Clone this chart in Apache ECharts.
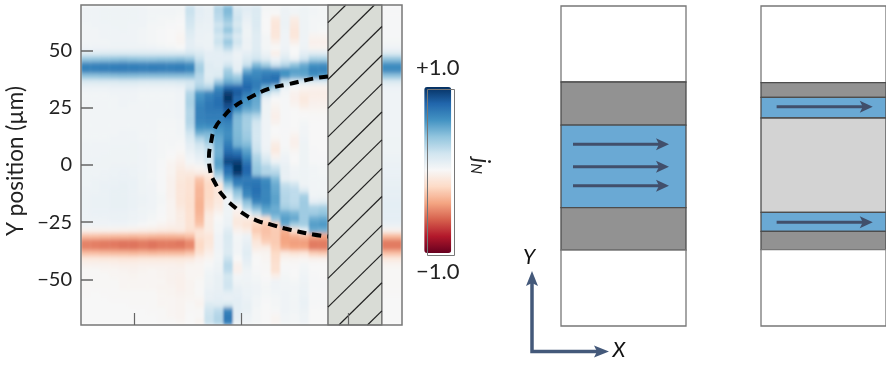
<!DOCTYPE html>
<html>
<head>
<meta charset="utf-8">
<style>
html,body{margin:0;padding:0;background:#fff}
#stage{position:relative;width:886px;height:366px;overflow:hidden}
#heatClip{position:absolute;left:81px;top:5px;width:321px;height:320px;overflow:hidden}
#heat{width:321px;height:320px;filter:url(#soft)}
#chart{position:absolute;left:0;top:0;width:886px;height:366px}
</style>
<script src="https://cdn.jsdelivr.net/npm/echarts@6/dist/echarts.min.js"></script>
</head>
<body>
<svg width="0" height="0" style="position:absolute"><filter id="soft" x="-5%" y="-5%" width="110%" height="110%"><feGaussianBlur stdDeviation="0.9 2"/></filter></svg>
<div id="stage">
<div id="heatClip"><div id="heat"></div></div>
<div id="chart"></div>
</div>
<script>
// y position of each heatmap row, top to bottom (um)
var rowLabels = [];
for (var r = 0; r < 56; r++) rowLabels.push(68.75 - 2.5 * r);
var colLabels = ['c0','c1','c2','c3','c4','c5','c6','c7','c8','c9','c10','c11','c12','c13','c14','c15','c16','c17','c18','c19','c20','c21','c22','c23','c24','c25'];
var yTicks = [-50, -25, 0, 25, 50];
var xTicks = [-50, 0, 50];

// current density in hundredths, one array per column, left to right
var c0 = [4,4,4,3,3,3,3,4, 13,38,66,68,40,14, 6,3,3,3,3,3,3,3,3,3,4,4,4,4, 5,5,5,5,6,6,6,6,6,6,4,-4, -30,-50,-50,-30,-10, -4,-1,-1,-1,-1,-1,0,0,0,0,0];
var c1 = [4,4,4,4,3,3,3,4, 13,39,67,68,40,14, 6,3,3,3,3,3,3,3,3,3,4,4,4,5, 5,5,6,6,6,7,7,7,7,6,4,-4, -30,-51,-51,-30,-10, -4,-1,-1,-1,-1,0,0,0,0,0,0];
var c2 = [5,5,5,4,4,4,3,4, 14,40,68,69,41,15, 6,3,3,3,3,3,3,3,3,3,4,4,5,5, 5,6,6,7,7,7,7,7,7,6,4,-4, -31,-52,-52,-31,-11, -4,-2,-1,-1,-1,-1,0,0,0,0,0];
var c3 = [5,5,5,5,4,4,4,5, 15,41,68,70,42,15, 7,4,3,3,3,3,3,3,3,4,4,5,5,5, 6,6,7,7,8,8,8,8,7,7,4,-4, -32,-53,-52,-32,-11, -5,-2,-2,-1,-1,-1,-1,0,0,0,0];
var c4 = [5,5,5,5,5,4,4,5, 15,42,69,70,43,16, 7,4,4,4,3,3,3,3,4,4,4,5,5,5, 6,7,7,8,8,8,8,8,7,7,4,-5, -32,-54,-54,-32,-12, -6,-3,-2,-2,-2,-1,-1,0,0,0,0];
var c5 = [5,5,5,4,4,4,4,5, 15,41,68,70,43,16, 7,4,4,3,3,3,3,3,4,4,5,5,5,5, 6,6,7,7,7,7,7,7,6,6,3,-6, -33,-54,-54,-33,-12, -6,-4,-3,-2,-2,-1,-1,-1,0,0,0];
var c6 = [4,4,4,4,3,3,3,5, 14,40,67,69,42,15, 6,3,3,3,3,3,3,3,3,3,4,4,4,4, 4,5,5,5,5,6,6,5,5,4,1,-7, -32,-52,-52,-32,-11, -5,-3,-2,-2,-2,-1,-1,-1,0,0,0];
var c7 = [3,3,3,2,2,2,2,4, 14,40,68,70,42,15, 6,3,3,3,3,3,3,3,3,3,3,3,3,3, 3,3,3,4,4,4,4,4,3,2,-1,-8, -33,-54,-54,-33,-11, -5,-2,-2,-2,-2,-1,-1,-1,-1,0,0];
var c8 = [3,3,2,2,1,1,1,3, 14,41,68,69,42,15, 6,3,3,3,3,3,2,2,2,2,2,2,2,1, 1,1,1,1,1,2,2,1,1,0,-3,-9, -34,-52,-52,-32,-11, -5,-3,-3,-2,-3,-2,-2,-2,-1,-1,-1];
var c9 = [3,3,2,1,0,0,0,2, 14,41,67,69,42,15, 6,3,3,3,3,3,2,2,2,2,2,1,0,-2, -3,-3,-4,-4,-4,-4,-3,-3,-3,-3,-5,-10, -34,-52,-52,-32,-11, -5,-4,-4,-4,-3,-3,-2,-2,-2,-2,-1];
var c10 = [3,2,1,0,-1,-2,-2,0, 15,42,68,70,42,16, 7,4,4,4,4,4,3,3,3,2,1,-1,-3,-5, -8,-10,-11,-12,-12,-12,-12,-10,-8,-8,-7,-9, -33,-54,-52,-32,-11, -6,-4,-5,-5,-5,-4,-3,-3,-3,-3,-2];
var c11 = [22,22,20,18,14,12,10,10, 18,38,64,66,42,18, 18,30,32,32,30,30,30,26,20,14,10,8,4,2, -4,-10,-14,-15,-15,-16,-16,-16,-15,-15,-14,-16, -30,-48,-48,-28,-10, -3,-2,-2,-3,-3,-3,-2,-1,-1,0,0];
var c12 = [10,10,9,8,7,7,6,8, 14,22,32,34,28,26, 32,58,62,66,68,68,66,60,48,30,20,14,10,6, -2,-8,-28,-32,-34,-34,-35,-35,-34,-32,-28,-14, -14,-20,-20,-14,-5, -2,-2,-2,-1,-1,-1,-2,-3,-1,-1,-3];
var c13 = [8,8,8,7,7,6,6,6, 10,10,12,12,12,16, 30,66,70,72,72,70,68,60,46,40,30,22,20,16, 4,-8,-16,-20,-20,-20,-18,-16,-10,-8,-8,-8, -12,-12,-10,-6,-2, 1,3,5,5,6,8,8,14,20,22,22];
var c14 = [30,28,26,20,24,18,22,14, 10,10,10,12,14,36, 62,72,76,76,72,70,68,60,56,52,50,48,50,55, 52,38,22,-10,-12,-12,-10,-8,-3,0,2,2, 4,4,4,3,3, 5,6,8,8,8,9,10,12,26,30,30];
var c15 = [44,44,38,30,40,26,38,28, 12,10,18,34,40,50, 78,96,100,90,84,78,68,64,62,64,70,76,84,92, 78,74,58,40,22,6,4,5,5,6,6,12, 16,15,14,14,22, 28,26,18,20,20,10,8,16,66,72,70];
var c16 = [14,18,20,16,22,14,20,12, 6,7,8,10,34,46, 80,84,78,76,60,46,44,44,45,46,48,70,82,94, 100,96,74,66,44,34,20,-2,-6,-10,-10,-4, 2,3,3,3,0, -4,-5,3,5,8,9,10,10,10,10,8];
var c17 = [12,10,8,6,5,5,6,5, 10,14,22,50,68,74, 80,72,62,58,50,36,34,34,36,38,44,54,62,72, 80,78,70,72,68,64,42,30,6,-10,-14,-8, 6,8,10,12,10, 8,5,4,5,6,6,7,8,8,6,4];
var c18 = [14,14,15,14,13,12,12,12, 14,20,44,62,66,70, 70,60,52,50,46,30,20,18,18,18,20,22,30,34, 38,40,70,74,76,74,66,46,24,-12,-22,-26, -20,-12,-8,-2,0, 0,1,2,3,4,4,3,3,2,2,2];
var c19 = [2,1,0,0,0,2,2,2, 6,12,34,64,72,74, 50,24,8,5,5,5,4,4,4,4,4,6,12,20, 30,30,62,66,66,66,66,56,48,-14,-26,-30, -28,-24,-8,-3,-2, -1,-1,0,1,2,2,1,0,0,0,0];
var c20 = [2,0,-10,-12,-12,-12,-6,0, -6,4,20,62,76,74, 38,12,0,-2,-4,-6,-4,0,0,-2,-8,-10,-4,6, 22,30,44,50,52,54,54,50,50,40,-22,-26, -26,-26,-24,-20,-18, -16,-16,-6,4,4,3,2,2,1,-2,-3];
var c21 = [5,6,6,6,5,4,4,4, 8,14,28,60,60,24, 6,2,1,1,1,1,1,1,1,1,1,2,4,6, 8,8,8,24,28,30,30,34,50,56,50,-36, -40,-40,-36,-10,-3, 0,1,2,3,3,4,4,4,4,3,3];
var c22 = [3,3,-8,-10,-12,-12,-6,0, 0,6,40,56,50,14, 0,-4,-5,-3,0,0,0,0,-2,-5,-5,-2,0,0, 3,4,5,20,26,26,26,30,46,52,34,-14, -36,-42,-40,-14,-3, -1,0,0,2,3,3,3,3,3,2,2];
var c23 = [5,5,5,5,5,5,4,5, 10,20,50,56,52,14, -2,-8,-10,-8,-2,0,2,3,3,4,5,5,5,5, 5,5,5,5,14,34,36,36,36,36,34,8, -32,-42,-40,-12,-2, 2,3,4,5,6,6,7,7,6,5,4];
var c24 = [3,3,2,2,2,-3,-5,-3, 12,34,60,68,60,12, -4,-7,-6,-4,-2,-1,0,0,0,0,0,1,1,1, 3,3,3,3,3,4,10,32,36,50,56,50, -38,-52,-52,-24,-4, 0,0,1,1,1,1,1,1,0,0,0];
var c25 = [2,2,2,2,1,-3,-5,-3, 12,34,62,68,56,12, -4,-7,-6,-4,-2,-1,0,0,0,0,0,0,1,1, 2,2,3,3,3,5,12,34,40,52,58,48, -40,-52,-52,-26,-4, 0,0,0,1,1,1,1,1,0,0,0];
var leftColumns = [c0,c1,c2,c3,c4,c5,c6,c7,c8,c9,c10,c11,c12,c13,c14,c15,c16,c17,c18,c19,c20,c21,c22,c23,c24,c25];
// strip to the right of the hatched block
var rightColumn = [1,1,1,1,1,1,2,4, 14,40,62,64,40,14, 6,4,4,4,4,4,4,4,4,5,5,5,6,6, 7,7,8,8,9,9,10,10,10,10,7,-4, -32,-52,-52,-30,-10, -3,-1,-1,-1,-1,-1,0,0,0,0,0];

// dashed parabola
var curveX = [40.4,33.4,21.3,13.3,3,-4,-8.6,-12.4,-14.3,-15.2,-14.7,-11.9,-8.6,-4,1.6,7.2,13.8,20.3,26.4,33.4,40.4];
var curveY = [38.7,37.8,35.2,33.5,29.1,25.2,20.9,16.1,9.6,3.5,-2.2,-8.7,-13.5,-17.8,-21.7,-24.3,-26.1,-27.8,-29.1,-30.4,-31.3];

// hatched block
var hatchRange = [40.4, 65.6];
var hatchStarts = [62.3,50,37.4,24.8,12.3,0,-12.2,-24.7,-37,-49.6,-62.2,-74.7,-87];
var hatchRise = 23.2;

// schematics: layer edges top to bottom and the colour of each layer
var panelAEdges = [70,36.75,17.9,-18.2,-36.75,-70];
var panelAColors = ['#ffffff','#929292','#6aa9d4','#929292','#ffffff'];
var panelBEdges = [70,36.5,30,21,-20.3,-28.6,-36.6,-70];
var panelBColors = ['#ffffff','#929292','#6aa9d4','#d3d3d3','#6aa9d4','#929292','#ffffff'];
var panelAArrows = [9.5,-0.3,-8.6];
var panelBArrows = [25.9,-24.6];

var rdbu = ['#67001f','#b2182b','#d6604d','#f4a582','#fddbc7','#f7f7f7','#d1e5f0','#92c5de','#4393c3','#2166ac','#053061'];
var font = 'Lato';

var leftData = [];
leftColumns.forEach(function(col, i) {
	col.forEach(function(v, j) { leftData.push([i, j, v / 100]); });
});
var rightData = rightColumn.map(function(v, j) { return [0, j, v / 100]; });

// heatmap sits in its own softened layer under the axes
var heatChart = echarts.init(document.getElementById('heat'));
heatChart.setOption({
	animation: false,
	grid: [
		{left: 0, top: 0, width: 247, height: 320},
		{left: 301, top: 0, width: 20, height: 320}
	],
	xAxis: [
		{type: 'category', gridIndex: 0, data: colLabels, show: false},
		{type: 'category', gridIndex: 1, data: ['r0'], show: false}
	],
	yAxis: [
		{type: 'category', gridIndex: 0, data: rowLabels, inverse: true, show: false},
		{type: 'category', gridIndex: 1, data: rowLabels, inverse: true, show: false}
	],
	visualMap: {show: false, type: 'continuous', min: -1, max: 1, inRange: {color: rdbu}},
	series: [
		{type: 'heatmap', xAxisIndex: 0, yAxisIndex: 0, data: leftData, silent: true, itemStyle: {borderWidth: 0}},
		{type: 'heatmap', xAxisIndex: 1, yAxisIndex: 1, data: rightData, silent: true, itemStyle: {borderWidth: 0}}
	]
});

var hatchData = hatchStarts.map(function(y, i) { return [i, y]; });
function renderHatch(params, api) {
	var x0 = hatchRange[0], x1 = hatchRange[1];
	var y0 = api.value(1), y1 = y0 + hatchRise;
	var slope = (x1 - x0) / hatchRise;
	var a = [x0, y0], b = [x1, y1];
	if (y1 > 70) b = [x0 + (70 - y0) * slope, 70];
	if (y0 < -70) a = [x0 + (-70 - y0) * slope, -70];
	var p = api.coord(a), q = api.coord(b);
	return {type: 'line', shape: {x1: p[0], y1: p[1], x2: q[0], y2: q[1]}, style: {stroke: '#222', lineWidth: 1.2, fill: null}};
}
function renderBlock(params, api) {
	var p = api.coord([hatchRange[0], 70]), q = api.coord([hatchRange[1], -70]);
	return {type: 'rect', shape: {x: p[0], y: p[1], width: q[0] - p[0], height: q[1] - p[1]}, style: {fill: '#d9dcd6', stroke: '#555', lineWidth: 1.2}};
}
function renderFrame(params, api) {
	var p = api.coord([-75, 70]), q = api.coord([75, -70]);
	return {type: 'rect', shape: {x: p[0], y: p[1], width: q[0] - p[0], height: q[1] - p[1]}, style: {fill: null, stroke: '#777', lineWidth: 1.5}};
}
function layerRenderer(edges, colors) {
	return function(params, api) {
		var i = api.value(0);
		var p = api.coord([0, edges[i]]), q = api.coord([1, edges[i + 1]]);
		return {type: 'rect', shape: {x: p[0], y: p[1], width: q[0] - p[0], height: q[1] - p[1]},
			style: {fill: colors[i], stroke: i === 0 || i === colors.length - 1 ? '#777' : '#4d4d4d', lineWidth: 1.3}};
	};
}
function renderArrow(x0, x1) {
	return function(params, api) {
		var p = api.coord([x0, api.value(0)]), q = api.coord([x1, api.value(0)]);
		return {type: 'group', children: [
			{type: 'line', shape: {x1: p[0], y1: p[1], x2: q[0] - 6, y2: q[1]}, style: {stroke: '#414f6b', lineWidth: 3}},
			{type: 'polygon', shape: {points: [[q[0], q[1]], [q[0] - 13, q[1] - 6], [q[0] - 10, q[1]], [q[0] - 13, q[1] + 6]]}, style: {fill: '#414f6b'}}
		]};
	};
}
function indexes(list) { return list.map(function(v, i) { return [i]; }); }
function hiddenValue(min, max) { return {type: 'value', min: min, max: max, show: false}; }

var chart = echarts.init(document.getElementById('chart'));
chart.setOption({
	animation: false,
	textStyle: {fontFamily: font},
	grid: [
		{left: 81, top: 5, width: 321, height: 320},
		{left: 561, top: 6, width: 125, height: 320},
		{left: 761, top: 6, width: 125, height: 320}
	],
	xAxis: [
		{type: 'value', gridIndex: 0, min: -75, max: 75, z: 10, splitLine: {show: false},
			axisLine: {show: false, onZero: false}, axisLabel: {show: false},
			axisTick: {show: true, inside: true, length: 12, customValues: xTicks, lineStyle: {color: '#666', width: 1.2}}},
		Object.assign(hiddenValue(0, 1), {gridIndex: 1}),
		Object.assign(hiddenValue(0, 1), {gridIndex: 2})
	],
	yAxis: [
		{type: 'value', gridIndex: 0, min: -70, max: 70, z: 10, splitLine: {show: false},
			name: 'Y position (µm)', nameLocation: 'middle', nameGap: 54,
			nameTextStyle: {fontSize: 22.5, color: '#222', fontFamily: font, padding: [0, 0, 0, 8]},
			axisLine: {show: false, onZero: false},
			axisTick: {show: true, inside: true, length: 12, customValues: yTicks, lineStyle: {color: '#666', width: 1.5}},
			axisLabel: {customValues: yTicks, fontSize: 20, color: '#222', fontFamily: font, margin: 9,
				formatter: function(v) { return String(v).replace('-', '\u2212'); }}},
		Object.assign(hiddenValue(-70, 70), {gridIndex: 1}),
		Object.assign(hiddenValue(-70, 70), {gridIndex: 2})
	],
	visualMap: {
		type: 'continuous', seriesIndex: [], min: -1, max: 1, calculable: false, orient: 'vertical',
		left: 401, top: 42, itemWidth: 27, itemHeight: 166, text: ['+1.0', '\u22121.0'], textGap: 8,
		textStyle: {fontSize: 22, color: '#222', fontFamily: font},
		inRange: {color: rdbu}
	},
	series: [
		{type: 'custom', xAxisIndex: 0, yAxisIndex: 0, data: [[0]], renderItem: renderBlock, z: 2, silent: true},
		{type: 'custom', xAxisIndex: 0, yAxisIndex: 0, data: hatchData, renderItem: renderHatch, z: 3, silent: true, encode: {x: -1, y: 1}},
		{type: 'line', xAxisIndex: 0, yAxisIndex: 0, z: 5, silent: true, smooth: true, symbol: 'none',
			data: curveX.map(function(x, i) { return [x, curveY[i]]; }),
			lineStyle: {color: '#000', width: 4, type: [9, 6]}},
		{type: 'custom', xAxisIndex: 0, yAxisIndex: 0, data: [[0]], renderItem: renderFrame, z: 4, silent: true},
		{type: 'custom', xAxisIndex: 1, yAxisIndex: 1, data: indexes(panelAColors), renderItem: layerRenderer(panelAEdges, panelAColors), z: 1, silent: true},
		{type: 'custom', xAxisIndex: 1, yAxisIndex: 1, data: panelAArrows.map(function(y) { return [y]; }), renderItem: renderArrow(0.096, 0.864), z: 2, silent: true},
		{type: 'custom', xAxisIndex: 2, yAxisIndex: 2, data: indexes(panelBColors), renderItem: layerRenderer(panelBEdges, panelBColors), z: 1, silent: true},
		{type: 'custom', xAxisIndex: 2, yAxisIndex: 2, data: panelBArrows.map(function(y) { return [y]; }), renderItem: renderArrow(0.125, 0.894), z: 2, silent: true}
	],
	graphic: [
		// colour bar outline
		{type: 'rect', left: 425, top: 87, shape: {width: 27, height: 166}, style: {fill: null, stroke: '#777', lineWidth: 1}, z: 20},
		{type: 'text', x: 481, y: 166, rotation: -Math.PI / 2, z: 20, style: {
			text: '{j|j}{n|N}', align: 'center', verticalAlign: 'middle',
			rich: {
				j: {fontFamily: font, fontStyle: 'italic', fontSize: 23, fill: '#222', lineHeight: 26},
				n: {fontFamily: font, fontStyle: 'italic', fontSize: 15, fill: '#222', verticalAlign: 'bottom', lineHeight: 26}
			}
		}},
		// axis key
		{type: 'polyline', shape: {points: [[532, 280], [532, 351.5], [600, 351.5]]}, style: {stroke: '#44597a', fill: null, lineWidth: 3.5}, z: 20},
		{type: 'polygon', shape: {points: [[532, 271], [526, 286], [532, 283], [538, 286]]}, style: {fill: '#44597a'}, z: 20},
		{type: 'polygon', shape: {points: [[609, 351.5], [594, 345.5], [597, 351.5], [594, 357.5]]}, style: {fill: '#44597a'}, z: 20},
		{type: 'text', x: 529, y: 257, z: 20, style: {text: 'Y', fontFamily: font, fontStyle: 'italic', fontSize: 21, fill: '#111', align: 'center', verticalAlign: 'middle'}},
		{type: 'text', x: 619, y: 350, z: 20, style: {text: 'X', fontFamily: font, fontStyle: 'italic', fontSize: 21, fill: '#111', align: 'center', verticalAlign: 'middle'}}
	]
});
</script>
</body>
</html>
